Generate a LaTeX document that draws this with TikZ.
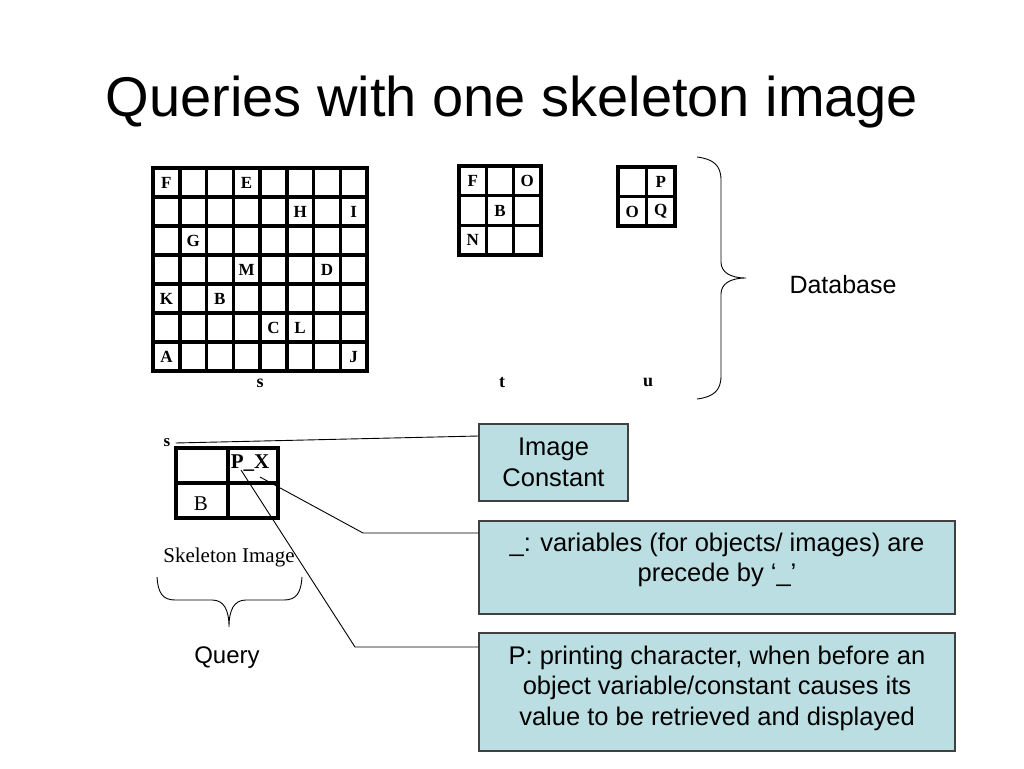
\documentclass[tikz,border=0pt]{standalone}
\usepackage{fontspec}
\setmainfont{Liberation Sans}
\newfontfamily\scanfont{Liberation Serif}
\definecolor{boxblue}{RGB}{186,222,226}
\definecolor{boxline}{RGB}{64,64,64}

\begin{document}
\begin{tikzpicture}[x=1pt,y=-1pt,
    cell/.style={font=\scanfont\bfseries\fontsize{17}{17}\selectfont, inner sep=0pt},
    qcell/.style={font=\scanfont\fontsize{21}{21}\selectfont, inner sep=0pt},
    lbl/.style={font=\scanfont\bfseries\fontsize{18}{18}\selectfont, inner sep=0pt},
    gridline/.style={line width=3.5pt, line cap=rect},
    infobox/.style={draw=boxline, line width=1.2pt, fill=boxblue, align=center,
        font=\fontsize{25.5}{30.5}\selectfont, inner sep=0pt},
    boxtext/.style={align=center, font=\fontsize{25.5}{30.5}\selectfont, inner sep=0pt},
    conn/.style={line width=0.9pt}]
\useasboundingbox (0,0) rectangle (1024,768);
\node[anchor=base, font=\fontsize{56}{60}\selectfont] (title) at (512,116) {Queries with one skeleton image};

% database images
\begin{scope}[shift={(153,168)}]
    \foreach \i in {0,...,8} \draw[gridline] (\i*26.75,0) -- (\i*26.75,203);
    \foreach \j in {0,...,7} \draw[gridline] (0,\j*29) -- (214,\j*29);
    \foreach \c/\r/\l in {0/0/F,3/0/E,5/1/H,7/1/I,1/2/G,3/3/M,6/3/D,0/4/K,2/4/B,4/5/C,5/5/L,0/6/A,7/6/J}
        \node[cell] (s\l) at (\c*26.75+13.4,\r*29+14.8) {\l};
\end{scope}
\node[lbl, anchor=base] (sname) at (260,387) {s};

\begin{scope}[shift={(459,166)}]
    \foreach \i in {0,...,3} \draw[gridline] (\i*27.3,0) -- (\i*27.3,89);
    \foreach \j in {0,...,3} \draw[gridline] (0,\j*29.7) -- (82,\j*29.7);
    \foreach \c/\r/\l in {0/0/F,2/0/O,1/1/B,0/2/N}
        \node[cell] (t\l) at (\c*27.3+13.7,\r*29.7+15) {\l};
\end{scope}
\node[lbl, anchor=base] (tname) at (502,387) {t};

\begin{scope}[shift={(618,167)}]
    \foreach \i in {0,...,2} \draw[gridline] (\i*28.5,0) -- (\i*28.5,59);
    \foreach \j in {0,...,2} \draw[gridline] (0,\j*29.5) -- (57,\j*29.5);
    \foreach \c/\r/\l in {1/0/P,0/1/O,1/1/Q}
        \node[cell] (u\l) at (\c*28.5+14.2,\r*29.5+15) {\l};
\end{scope}
\node[lbl, anchor=base] (uname) at (648,386) {u};

\draw[line width=0.9pt] (697,157) .. controls (713,159) and (721,165) .. (721,180) -- (721,262)
    .. controls (721,272) and (730,278) .. (746,278) .. controls (730,278) and (721,284) .. (721,294)
    -- (721,376) .. controls (721,391) and (713,397) .. (697,399);
\node[anchor=base, font=\fontsize{25}{25}\selectfont] (db) at (843,293) {Database};

% query
\node[lbl, font=\scanfont\bfseries\fontsize{17}{17}\selectfont, inner xsep=5pt] (qs) at (167,443) {s};
\draw[line width=4pt] (176,448) rectangle (278,518);
\draw[line width=3.2pt] (228,448) -- (228,518) (176,483) -- (278,483);
\node[qcell, font=\scanfont\bfseries\fontsize{21}{21}\selectfont] (px) at (250,463) {P\_X};
\node[qcell] (qb) at (201,504) {B};
\node[qcell, anchor=base] (skel) at (229,562) {Skeleton Image};
\draw[line width=0.9pt] (157,577) .. controls (158,592) and (162,600) .. (175,600) -- (212,600)
    .. controls (224,600) and (229,610) .. (229,627) .. controls (229,610) and (234,600) .. (246,600)
    -- (284,600) .. controls (297,600) and (301,592) .. (302,577);
\node[anchor=base, font=\fontsize{24}{24}\selectfont] (query) at (227,663) {Query};

\node[infobox, minimum width=149pt, minimum height=77pt] (imgc) at (553.5,462.5) {Image\\Constant};
\node[infobox, minimum width=476pt, minimum height=93pt,
    label={[boxtext, anchor=north, yshift=-12pt]north:{\_: variables (for objects/ images) are\\precede by ‘\_’}}] (var) at (717,567.5) {};
\node[infobox, minimum width=476pt, minimum height=118pt,
    label={[boxtext, anchor=north, yshift=-13pt]north:{P: printing character, when before an\\object variable/constant causes its\\value to be retrieved and displayed}}] (prt) at (717,692) {};

\coordinate (pchar) at (241,470);
\coordinate (uscore) at (260,477);
\coordinate (bend2) at (363,533);
\coordinate (bend3) at (355,647);
\draw[conn] (qs.east) -- (imgc.west |- 0,436);
\draw[conn] (uscore) -- (bend2) -- (bend2 -| var.west);
\draw[conn] (pchar) -- (bend3) -- (bend3 -| prt.west);
\end{tikzpicture}
\end{document}
